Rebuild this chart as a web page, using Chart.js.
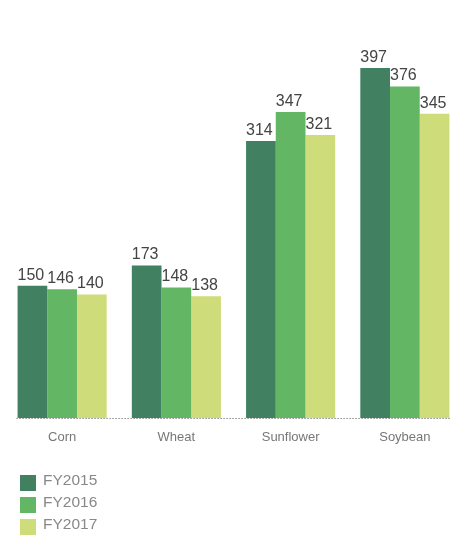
<!DOCTYPE html>
<html>
<head>
<meta charset="utf-8">
<script src="https://cdn.jsdelivr.net/npm/chart.js@4/dist/chart.umd.min.js"></script>
<style>
    html, body { margin: 0; padding: 0; background: #fff; overflow: hidden; }
    #caja { position: absolute; left: 0; top: 0; width: 462px; height: 535px; }
</style>
</head>
<body>
<div id="caja"><canvas id="myChart"></canvas></div>
<script>
// datos del grafico
const categorias = ['Corn', 'Wheat', 'Sunflower', 'Soybean'];
const series = ['FY2015', 'FY2016', 'FY2017'];
const fy2015 = [150, 173, 314, 397];
const fy2016 = [146, 148, 347, 376];
const fy2017 = [140, 138, 321, 345];
const colores = ['#418162', '#63b663', '#cedc79'];

const fuente = '"Liberation Sans", Arial, sans-serif';

// etiquetas de valor arriba de cada barra, alineadas a la izquierda
const etiquetasValor = {
    id: 'etiquetasValor',
    afterDatasetsDraw: function (chart) {
        const ctx = chart.ctx;
        ctx.save();
        ctx.font = '16px ' + fuente;
        ctx.fillStyle = '#444';
        ctx.textAlign = 'left';
        ctx.textBaseline = 'alphabetic';
        chart.data.datasets.forEach(function (ds, i) {
            chart.getDatasetMeta(i).data.forEach(function (bar, j) {
                const izq = bar.x - bar.width / 2;
                ctx.fillText(ds.data[j], izq, bar.y - 6);
            });
        });
        ctx.restore();
    }
};

// linea punteada de la base, solo debajo de las barras
const lineaBase = {
    id: 'lineaBase',
    afterDatasetsDraw: function (chart) {
        const primera = chart.getDatasetMeta(0).data[0];
        const ultimaMeta = chart.getDatasetMeta(chart.data.datasets.length - 1).data;
        const ultima = ultimaMeta[ultimaMeta.length - 1];
        const x1 = primera.x - primera.width / 2 - 1;
        const x2 = ultima.x + ultima.width / 2 + 1;
        const y = Math.round(chart.chartArea.bottom) + 0.5;
        const ctx = chart.ctx;
        ctx.save();
        ctx.strokeStyle = '#555';
        ctx.lineWidth = 1;
        ctx.setLineDash([1, 2]);
        ctx.beginPath();
        ctx.moveTo(x1, y);
        ctx.lineTo(x2, y);
        ctx.stroke();
        ctx.restore();
    }
};

// leyenda vertical abajo a la izquierda
const leyenda = {
    id: 'leyenda',
    afterDraw: function (chart) {
        const ctx = chart.ctx;
        ctx.save();
        ctx.font = '15.5px ' + fuente;
        ctx.textAlign = 'left';
        ctx.textBaseline = 'alphabetic';
        chart.data.datasets.forEach(function (ds, i) {
            const y = 475 + i * 22;
            ctx.fillStyle = ds.backgroundColor;
            ctx.fillRect(20, y, 16, 16);
            ctx.fillStyle = '#888';
            ctx.fillText(ds.label, 43, y + 9.5);
        });
        ctx.restore();
    }
};

const datasets = [fy2015, fy2016, fy2017].map(function (valores, i) {
    return {
        label: series[i],
        data: valores,
        backgroundColor: colores[i],
        borderWidth: 0,
        categoryPercentage: 0.78,
        barPercentage: 1
    };
});

const canvas = document.getElementById('myChart');
const chart = new Chart(canvas, {
    type: 'bar',
    data: {
        labels: categorias,
        datasets: datasets
    },
    options: {
        responsive: true,
        maintainAspectRatio: false,
        animation: false,
        layout: {
            padding: { left: 5, right: 0, top: 0, bottom: 85.5 }
        },
        plugins: {
            tooltip: { enabled: false },
            legend: { display: false }
        },
        scales: {
            x: {
                grid: { display: false },
                border: { display: false },
                ticks: {
                    color: '#777',
                    padding: 4,
                    font: { family: fuente, size: 13 }
                }
            },
            y: {
                display: false,
                min: 0,
                max: 474
            }
        }
    },
    plugins: [etiquetasValor, lineaBase, leyenda]
});
</script>
</body>
</html>
